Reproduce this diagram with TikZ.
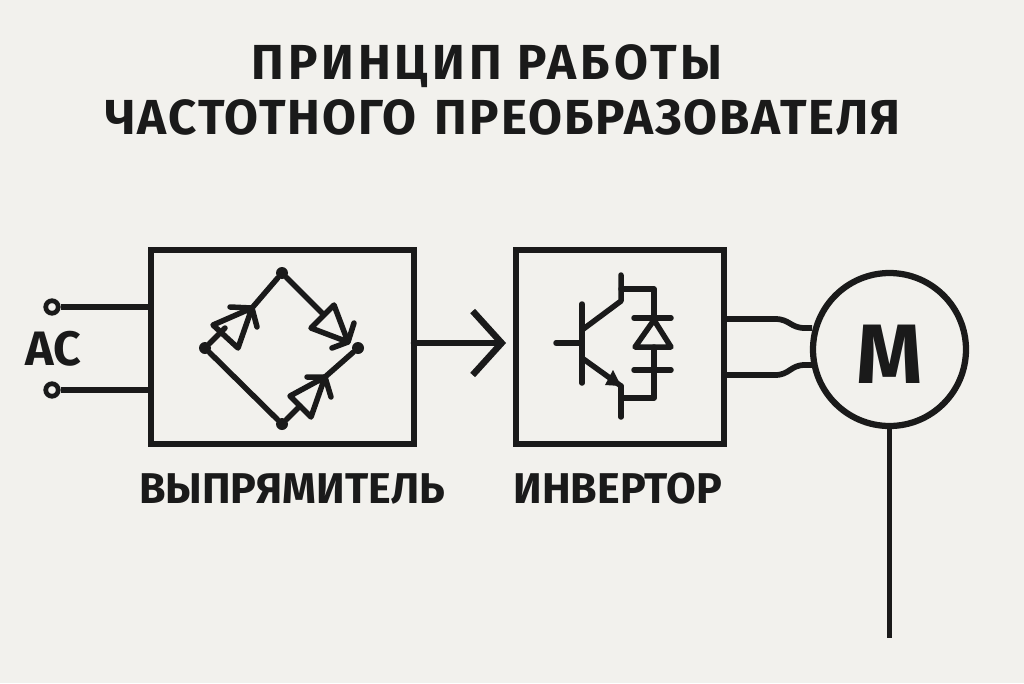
\documentclass[tikz,border=0pt]{standalone}
\usepackage{fontspec}
\setmainfont{Fira Sans}
\usetikzlibrary{positioning,arrows.meta}
\definecolor{paper}{HTML}{F2F1ED}
\definecolor{ink}{HTML}{1A1A1A}
\begin{document}
\begin{tikzpicture}
[x=0.02cm,y=-0.02cm,>={Straight Barb[length=5.8mm,width=12.8mm]},
wire/.style={draw=ink,line width=0.115cm,line join=round},
thin wire/.style={draw=ink,line width=0.11cm,line join=round,line cap=round},
block/.style={draw=ink,line width=0.125cm,inner sep=0pt,outer sep=0pt},
dot/.style={circle,fill=ink,inner sep=0pt,minimum size=0.24cm},
terminal/.style={circle,draw=ink,line width=0.095cm,fill=paper,inner sep=0pt,minimum size=0.25cm},
title/.style={text=ink,font=\fontsize{28}{32}\selectfont\bfseries,inner sep=0pt,anchor=base},
caption/.style={text=ink,font=\fontsize{24.5}{28}\selectfont\bfseries,inner sep=0pt,anchor=base}]
\fill[paper] (0,0) rectangle (1024,683);
\useasboundingbox (0,0) rectangle (1024,683);

\node[title] (title1) at (487,79) {\addfontfeature{LetterSpace=8}ПРИНЦИП РАБОТЫ};
\node[title] (title2) at (503,134) {\addfontfeature{LetterSpace=4}ЧАСТОТНОГО\hspace{0.1cm} ПРЕОБРАЗОВАТЕЛЯ};

\node[block,minimum width=5.26cm,minimum height=3.88cm] (rect) at (282.5,347) {};
\node[block,minimum width=4.16cm,minimum height=3.88cm] (inv) at (620,347) {};
\node[caption] (rectlabel) at (292,503) {ВЫПРЯМИТЕЛЬ};
\node[caption] (invlabel) at (618,503) {ИНВЕРТОР};

% input
\node[terminal] (ac1) at (52,307) {};
\node[terminal] (ac2) at (52,390) {};
\node[text=ink,font=\fontsize{27.5}{30}\selectfont\bfseries,inner sep=0pt,anchor=base] (ac) at (53,365) {AC};
\coordinate (in1) at (rect.west |- ac1);
\coordinate (in2) at (rect.west |- ac2);
\draw[wire] (ac1) -- (in1);
\draw[wire] (ac2) -- (in2);

% bridge
\node[dot] (top) at (282,273) {};
\node[dot] (left) at (205,348) {};
\node[dot] (right) at (358,348) {};
\node[dot] (bottom) at (282,424) {};
\coordinate (tipa) at (252,308);
\coordinate (tipb) at (348,342);
\coordinate (tipc) at (325,377);
\draw[thin wire] (left) -- (bottom);
\draw[thin wire] (left) -- (225,328);
\draw[thin wire] (tipa) -- (top) -- (323,314);
\draw[thin wire] (bottom) -- (300,406);
\draw[thin wire] (tipc) -- (right);
\draw[thin wire] (213,325) -- (238,348) -- (tipa) -- cycle;
\draw[thin wire] (230,307) -- (tipa) -- (257,327);
\draw[thin wire] (334,305) -- (311,328) -- (tipb) -- cycle;
\draw[thin wire] (354,323) -- (tipb) -- (332,348);
\draw[thin wire] (290,396) -- (311,417) -- (tipc) -- cycle;
\draw[thin wire] (307,377) -- (tipc) -- (331,397);

% link
\draw[wire,line width=0.13cm,line cap=round,->,shorten >=0.2cm] (rect.east |- 0,343) -- (inv.west |- 0,343);

% transistor
\draw[thin wire] (582,304) -- (582,383);
\draw[thin wire] (556,343) -- (582,343);
\draw[thin wire] (621,275) -- (621,301) -- (582,330);
\draw[thin wire] (621,417) -- (621,386);
\draw[thin wire] (582,358) -- (621,386);
\fill[ink] (621,386) -- (605,385) -- (613,370) -- cycle;
\draw[thin wire] (621,289) -- (654,289) -- (654,318);
\draw[thin wire] (654,347) -- (654,398) -- (621,398);
\draw[thin wire] (634,318) -- (671,318);
\draw[thin wire] (654,320) -- (671,347) -- (635,347) -- cycle;
\draw[thin wire] (634,370) -- (671,370);

% motor
\node[circle,draw=ink,line width=0.125cm,inner sep=0pt,minimum size=3.06cm,outer sep=0pt] (motor) at (889.5,349.5) {};
\node[text=ink,font=\fontsize{48}{52}\selectfont\bfseries,inner sep=0pt,anchor=base] (mlabel) at (889.5,383) {M};
\coordinate (gnd) at (889.5,638);
\draw[wire] (motor) -- (gnd);
\draw[wire] (inv.east |- 0,319) -- (775,319) .. controls (790,319) and (790,328) .. (805,328) -- (812,328);
\draw[wire] (inv.east |- 0,375) -- (775,375) .. controls (790,375) and (790,365) .. (805,365) -- (812,365);
\end{tikzpicture}
\end{document}
